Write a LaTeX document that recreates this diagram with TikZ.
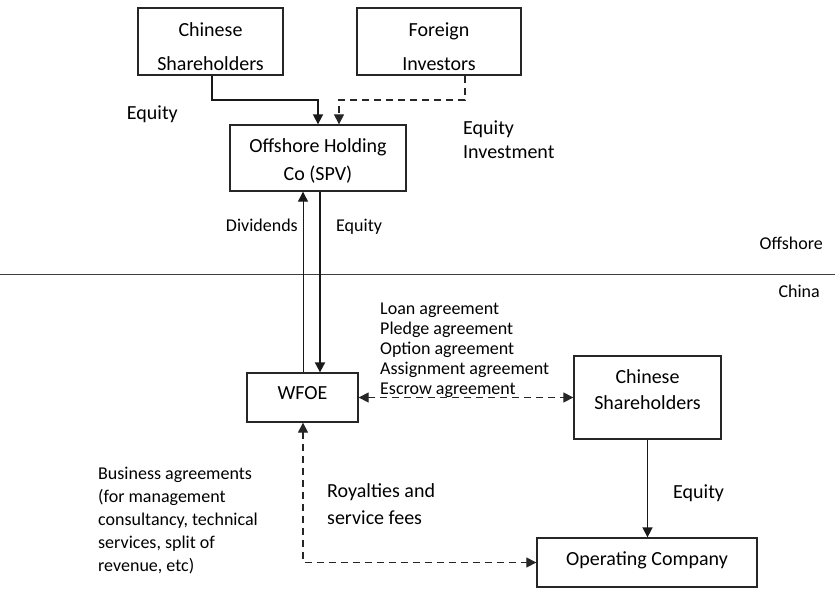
\documentclass[tikz,border=0pt]{standalone}
\usepackage{fontspec}
\setmainfont{Carlito}
\usetikzlibrary{arrows.meta}
\newcommand{\topstrut}[1]{\rule{0pt}{#1}}
\newcommand{\botstrut}[1]{\rule[-#1]{0pt}{1pt}}
\begin{document}
\begin{tikzpicture}[x=1pt,y=-1pt,
  box/.style={draw=black!85,line width=1.3pt,inner sep=0pt,align=center},
  lbl/.style={inner sep=0pt,align=left},
  tip/.style={-{Triangle[length=10pt,width=10pt]}},
  twotip/.style={{Triangle[length=10pt,width=10pt]}-{Triangle[length=10pt,width=10pt]}},
  solidarrow/.style={tip,line width=1.6pt,draw=black!90},
  thinarrow/.style={tip,line width=0.9pt,draw=black!90},
  dasharrow/.style={line width=1.2pt,draw=black!85,dash pattern=on 7pt off 5pt},
  f20/.style={font=\fontsize{20}{27}\selectfont},
  f18/.style={font=\fontsize{18}{20}\selectfont}]
\useasboundingbox (0,0) rectangle (835,589);

% boxes
\node[box,minimum width=145pt,minimum height=67pt,font=\fontsize{20}{34}\selectfont] (cs1) at (210.5,41.5) {\topstrut{25pt}Chinese\\Shareholders};
\node[box,minimum width=164pt,minimum height=67pt,font=\fontsize{20}{34}\selectfont] (fi) at (439,41.5) {\topstrut{25pt}Foreign\\Investors};
\node[box,minimum width=176pt,minimum height=66pt,font=\fontsize{20}{28}\selectfont] (spv) at (318,158) {\topstrut{20pt}Offshore Holding\\Co (SPV)};
\node[box,f20,minimum width=111pt,minimum height=49pt] (wfoe) at (302.5,397.5) {WFOE\botstrut{8pt}};
\node[box,minimum width=147pt,minimum height=83pt,font=\fontsize{20}{26}\selectfont] (cs2) at (647.5,397.5) {Chinese\\Shareholders\botstrut{15pt}};
\node[box,f20,minimum width=220pt,minimum height=49pt] (opco) at (647,562.5) {Operating Company\botstrut{8pt}};

% divider
\draw[line width=1pt,draw=black!75] (0,274) coordinate (l0) -- (835,274) coordinate (l1);

% helper coordinates
\coordinate (j1) at (318,100);
\coordinate (j2) at (339,100);
\coordinate (dv) at (303,0);
\coordinate (eq) at (320,0);

% connectors
\draw[solidarrow] (cs1.south -| 212,0) |- (j1) -- (j1 |- spv.north);
\draw[dasharrow,tip] ([xshift=26pt]fi.south) |- (j2) -- (j2 |- spv.north);
\draw[thinarrow] (dv |- wfoe.north) -- (dv |- spv.south);
\draw[solidarrow,line width=1.9pt] (eq |- spv.south) -- (eq |- wfoe.north);
\draw[dasharrow,twotip] (wfoe.east) -- (cs2.west);
\draw[solidarrow] (cs2.south) -- (cs2.south |- opco.north);
\draw[dasharrow,twotip] (dv |- wfoe.south) |- (opco.west);

% labels
\node[lbl,f20,anchor=east] (lq1) at (178,114) {Equity};
\node[lbl,anchor=west,font=\fontsize{20}{24}\selectfont] (lq2) at (463,140) {Equity\\Investment};
\node[lbl,f18,anchor=east] (ldiv) at (298,225) {Dividends};
\node[lbl,f18,anchor=west] (lq3) at (336,227) {Equity};
\node[lbl,f18,anchor=east] (loff) at (823,243) {Offshore};
\node[lbl,f18,anchor=east] (lchina) at (820,291) {China};
\node[lbl,f18,anchor=west] (lagr) at (380,350) {Loan agreement\\Pledge agreement\\Option agreement\\Assignment agreement\\Escrow agreement};
\node[lbl,anchor=west,font=\fontsize{20}{27}\selectfont] (lroy) at (327,504) {Royalties and\\service fees};
\node[lbl,anchor=west,font=\fontsize{18}{23}\selectfont] (lbus) at (98,521) {Business agreements\\(for management\\consultancy, technical\\services, split of\\revenue, etc)};
\node[lbl,f20,anchor=west] (lq4) at (673,493) {Equity};
\end{tikzpicture}
\end{document}
